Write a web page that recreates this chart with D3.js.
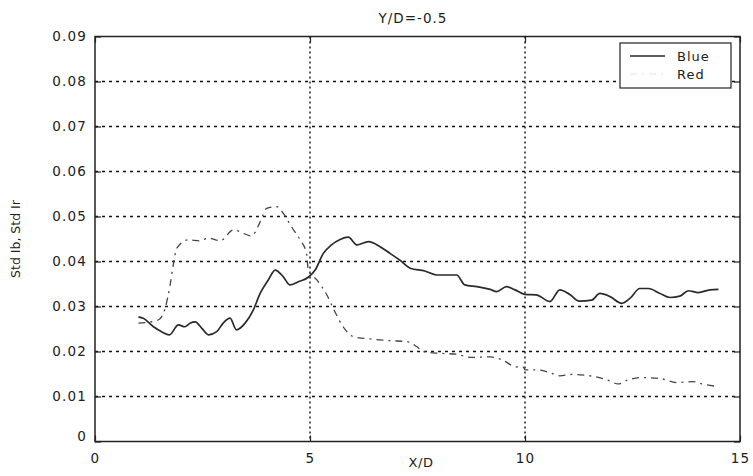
<!DOCTYPE html>
<html><head><meta charset="utf-8">
<script src="https://cdn.jsdelivr.net/npm/d3@7"></script>
<style>
body{margin:0;background:#fff;}
text{font-family:"DejaVu Sans",sans-serif;fill:#222;}
</style></head>
<body><svg id="c" width="753" height="476"></svg>
<script>
const title = "Y/D=-0.5";
const xLabel = "X/D";
const yLabel = "Std Ib, Std Ir";
const seriesNames = ["Blue", "Red"];
const xTicks = [0, 5, 10, 15];
const yTicks = [0, 0.01, 0.02, 0.03, 0.04, 0.05, 0.06, 0.07, 0.08, 0.09];

const blueX = [1.01,1.12,1.36,1.55,1.73,1.94,2.09,2.21,2.33,2.48,2.64,2.83,2.98,3.14,3.29,3.49,3.68,3.84,4.03,4.19,4.38,4.53,4.73,4.96,5.12,5.31,5.5,5.7,5.89,6.09,6.36,6.63,6.86,7.09,7.33,7.67,7.95,8.18,8.41,8.6,8.88,9.19,9.34,9.57,9.77,10.0,10.26,10.58,10.81,11.05,11.26,11.55,11.74,11.98,12.25,12.44,12.67,12.87,13.14,13.37,13.6,13.8,14.03,14.3,14.5];
const blueY = [0.0277,0.0274,0.0255,0.0244,0.0237,0.0259,0.0255,0.0263,0.0266,0.0252,0.0237,0.0244,0.0263,0.0274,0.0248,0.0263,0.0292,0.0329,0.0359,0.0381,0.0366,0.0348,0.0355,0.0365,0.0381,0.0418,0.0437,0.0449,0.0454,0.0437,0.0444,0.0433,0.0418,0.0403,0.0385,0.0379,0.037,0.037,0.037,0.0348,0.0344,0.0338,0.0333,0.0344,0.0337,0.0327,0.0326,0.0311,0.0337,0.0326,0.0312,0.0314,0.0329,0.0322,0.0307,0.0318,0.034,0.034,0.0329,0.032,0.0323,0.0335,0.0331,0.0337,0.0338];

const redX = [1.01,1.47,1.63,1.74,1.82,1.9,2.17,2.44,2.64,2.91,3.22,3.64,3.84,3.99,4.23,4.38,4.57,4.77,4.92,4.96,5.16,5.39,5.54,5.77,6.01,6.4,6.86,7.25,7.48,7.64,8.02,8.41,8.72,9.19,9.5,9.77,9.96,10.0,10.31,10.58,10.81,11.09,11.51,11.9,12.17,12.4,12.71,13.14,13.53,13.91,14.11,14.42];
const redY = [0.0263,0.027,0.0296,0.0344,0.0392,0.0429,0.0448,0.0446,0.0452,0.0446,0.047,0.0457,0.0488,0.0518,0.0522,0.0507,0.0477,0.0448,0.0418,0.0381,0.0359,0.0326,0.0296,0.0255,0.0233,0.0228,0.0224,0.0222,0.0211,0.02,0.0196,0.0194,0.0187,0.0188,0.018,0.0166,0.0165,0.0159,0.0159,0.0153,0.0146,0.0149,0.0146,0.0137,0.0128,0.0137,0.0142,0.014,0.0131,0.0133,0.0128,0.0123];

const svg = d3.select("#c");
const L = 95, R = 740, T = 36.5, B = 441.5;
const x = d3.scaleLinear().domain([0, 15]).range([L, R]);
const y = d3.scaleLinear().domain([0, 0.09]).range([B, T]);

svg.append("rect").attr("width", 753).attr("height", 476).attr("fill", "#fff");

// grid
const g = svg.append("g");
g.selectAll(".hg").data(yTicks.filter(v => v > 0 && v < 0.09)).join("line")
  .attr("x1", L).attr("x2", R).attr("y1", d => y(d)).attr("y2", d => y(d))
  .attr("stroke", "#111").attr("stroke-width", 1.3).attr("stroke-dasharray", "3,4");
g.selectAll(".vg").data(xTicks.filter(v => v > 0 && v < 15)).join("line")
  .attr("x1", d => x(d)).attr("x2", d => x(d)).attr("y1", T).attr("y2", B)
  .attr("stroke", "#111").attr("stroke-width", 1.4).attr("stroke-dasharray", "2,3");

// axes
const fmtY = v => v === 0 ? "0" : d3.format(".2f")(v);
const ax = svg.append("g").attr("transform", `translate(0,${B})`)
  .call(d3.axisBottom(x).tickValues(xTicks).tickSizeInner(-6).tickSizeOuter(0).tickPadding(12).tickFormat(d3.format("d")));
const ay = svg.append("g").attr("transform", `translate(${L},0)`)
  .call(d3.axisLeft(y).tickValues(yTicks).tickSizeInner(-6).tickSizeOuter(0).tickPadding(8).tickFormat(fmtY));
const ar = svg.append("g").attr("transform", `translate(${R},0)`)
  .call(d3.axisRight(y).tickValues(yTicks).tickSizeInner(-6).tickSizeOuter(0).tickFormat(""));
const at = svg.append("g").attr("transform", `translate(0,${T})`)
  .call(d3.axisTop(x).tickValues(xTicks).tickSizeInner(-6).tickSizeOuter(0).tickFormat(""));
[ax, ay, ar, at].forEach(a => {
  a.select(".domain").remove();
  a.selectAll(".tick line").attr("stroke", "#222").attr("stroke-width", 1.2);
  a.selectAll(".tick text").style("font-size", "13.5px").style("letter-spacing", "1.2px")
    .style("font-family", '"DejaVu Sans",sans-serif').attr("fill", "#222");
});
ax.selectAll(".tick text").attr("dy", "0.71em");
ay.selectAll(".tick text").filter(d => d === 0).attr("dy", "-0.05em");

svg.append("rect").attr("x", L).attr("y", T).attr("width", R - L).attr("height", B - T)
  .attr("fill", "none").attr("stroke", "#222").attr("stroke-width", 1.5);

// lines
const line = d3.line().x(d => x(d[0])).y(d => y(d[1])).curve(d3.curveMonotoneX);
svg.append("path").datum(blueX.map((v, i) => [v, blueY[i]]))
  .attr("d", line).attr("fill", "none").attr("stroke", "#2a2a2a").attr("stroke-width", 1.7);
svg.append("path").datum(redX.map((v, i) => [v, redY[i]]))
  .attr("d", line).attr("fill", "none").attr("stroke", "#444").attr("stroke-width", 1.3)
  .attr("stroke-dasharray", "7,5,2,5");

// title & labels
svg.append("text").attr("x", 413).attr("y", 23).attr("text-anchor", "middle")
  .style("font-size", "13.5px").style("letter-spacing", "1px").text(title);
svg.append("text").attr("x", 421).attr("y", 467).attr("text-anchor", "middle")
  .style("font-size", "13px").style("letter-spacing", "0.5px").text(xLabel);
svg.append("text").attr("transform", `translate(20,${(T + B) / 2}) rotate(-90)`)
  .attr("text-anchor", "middle").style("font-size", "12.5px").text(yLabel);

// legend
const lg = svg.append("g");
lg.append("rect").attr("x", 620).attr("y", 43).attr("width", 111).attr("height", 45)
  .attr("fill", "#fff").attr("stroke", "#222").attr("stroke-width", 1.2);
lg.append("line").attr("x1", 630).attr("x2", 665).attr("y1", 56).attr("y2", 56)
  .attr("stroke", "#2a2a2a").attr("stroke-width", 1.5);
lg.append("line").attr("x1", 630).attr("x2", 665).attr("y1", 74).attr("y2", 74)
  .attr("stroke", "#e4e4e4").attr("stroke-width", 1).attr("stroke-dasharray", "7,5,2,5");
lg.selectAll(".lt").data(seriesNames).join("text")
  .attr("x", 677).attr("y", (d, i) => 61 + i * 18)
  .style("font-size", "13px").style("letter-spacing", "1px").text(d => d);
</script></body></html>
